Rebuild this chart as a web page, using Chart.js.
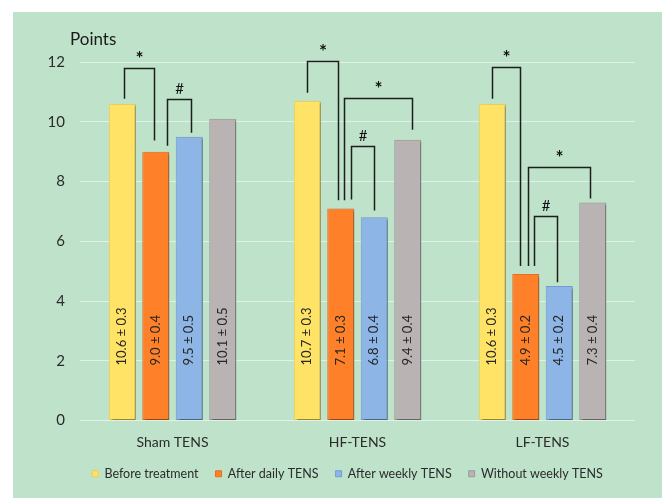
<!DOCTYPE html>
<html>
<head>
<meta charset="utf-8">
<script src="https://cdn.jsdelivr.net/npm/chart.js@4"></script>
<style>
  html, body { margin: 0; padding: 0; background: #ffffff; }
  #panel { position: absolute; left: 13px; top: 12px; width: 649px; height: 486px; background: #bfe2ca; }
  #panel canvas { display: block; }
</style>
</head>
<body>
<div id="panel"><canvas id="chart" width="649" height="486"></canvas></div>
<script>
// Groups and series
const categories = ['Sham TENS', 'HF-TENS', 'LF-TENS'];
const seriesNames = ['Before treatment', 'After daily TENS', 'After weekly TENS', 'Without weekly TENS'];

// Mean score (points) per group
const beforeTreatment = [10.6, 10.7, 10.6];
const afterDaily      = [9.0, 7.1, 4.9];
const afterWeekly     = [9.5, 6.8, 4.5];
const withoutWeekly   = [10.1, 9.4, 7.3];

// Standard deviations
const sdBefore  = [0.3, 0.3, 0.3];
const sdDaily   = [0.4, 0.3, 0.2];
const sdWeekly  = [0.5, 0.4, 0.2];
const sdWithout = [0.5, 0.4, 0.4];

// Y axis ticks
const yTicks = [0, 2, 4, 6, 8, 10, 12];

// Significance brackets: group, from series, to series, top level, leg ends, mark
const bracketGroup   = [0, 0, 1, 1, 1, 2, 2, 2];
const bracketFrom    = [0, 1, 0, 1, 1, 0, 1, 1];
const bracketTo      = [1, 2, 1, 3, 2, 1, 3, 2];
const bracketTop     = [11.8, 10.77, 12.03, 10.8, 9.2, 11.83, 8.47, 6.83];
const bracketFromEnd = [10.77, 9.2, 10.97, 7.37, 7.4, 10.77, 5.17, 5.17];
const bracketToEnd   = [9.37, 9.63, 7.37, 9.73, 7.03, 5.17, 7.43, 4.63];
const bracketMark    = ['*', '#', '*', '*', '#', '*', '*', '#'];

// Horizontal nudges of the bracket legs off the bar centres (px)
const legShiftFrom = [2, 11, 0, 3, 10, 0, 2, 8];
const legShiftTo   = [-2, 1.5, -3, 4.5, 0, -6, -2.5, -2.5];

const FONT = 'Lato, "Open Sans", "DejaVu Sans", sans-serif';
const fills   = ['#ffe366', '#fe8029', '#8db5e6', '#b9b3b3'];
const borders = ['#efcd4c', '#e86d1c', '#719cd0', '#9d9898'];

const values = [beforeTreatment, afterDaily, afterWeekly, withoutWeekly];
const sds = [sdBefore, sdDaily, sdWeekly, sdWithout];

const datasets = seriesNames.map((name, i) => ({
  label: name,
  data: values[i],
  backgroundColor: fills[i],
  borderColor: borders[i],
  borderWidth: 1,
  borderSkipped: false,
  categoryPercentage: 0.724,
  barPercentage: 0.806
}));

// soft drop shadow under each bar
const barShadow = {
  id: 'barShadow',
  beforeDatasetDraw(chart) {
    const ctx = chart.ctx;
    ctx.save();
    ctx.shadowColor = 'rgba(0,0,0,0.38)';
    ctx.shadowBlur = 2;
    ctx.shadowOffsetX = 2;
    ctx.shadowOffsetY = 1.5;
  },
  afterDatasetDraw(chart) {
    chart.ctx.restore();
  }
};

// centre the legend under the plot rather than under the whole canvas
const legendShift = {
  id: 'legendShift',
  afterLayout(chart) {
    if (chart.legend) chart.legend.left += 47;
  }
};

// "mean ± sd" written up the inside of each bar
const barLabels = {
  id: 'barLabels',
  afterDatasetsDraw(chart) {
    const ctx = chart.ctx;
    const base = chart.scales.y.getPixelForValue(0);
    ctx.save();
    ctx.font = '13px ' + FONT;
    ctx.fillStyle = '#262626';
    ctx.textAlign = 'left';
    ctx.textBaseline = 'middle';
    chart.data.datasets.forEach((ds, i) => {
      const meta = chart.getDatasetMeta(i);
      meta.data.forEach((bar, j) => {
        const txt = values[i][j].toFixed(1) + ' \u00b1 ' + sds[i][j].toFixed(1);
        ctx.save();
        ctx.translate(bar.x, base - 55);
        ctx.rotate(-Math.PI / 2);
        ctx.fillText(txt, 0, 0);
        ctx.restore();
      });
    });
    ctx.restore();
  }
};

// comparison brackets with * / # marks
const brackets = {
  id: 'brackets',
  afterDatasetsDraw(chart) {
    const ctx = chart.ctx;
    const y = chart.scales.y;
    ctx.save();
    ctx.strokeStyle = '#1e1e1e';
    ctx.lineWidth = 1.5;
    ctx.fillStyle = '#111';
    ctx.textAlign = 'center';
    ctx.textBaseline = 'alphabetic';
    bracketGroup.forEach((g, k) => {
      const a = chart.getDatasetMeta(bracketFrom[k]).data[g];
      const b = chart.getDatasetMeta(bracketTo[k]).data[g];
      const x1 = Math.round(a.x + legShiftFrom[k]) + 0.5;
      const x2 = Math.round(b.x + legShiftTo[k]) + 0.5;
      const yt = Math.round(y.getPixelForValue(bracketTop[k])) + 0.5;
      ctx.beginPath();
      ctx.moveTo(x1, y.getPixelForValue(bracketFromEnd[k]));
      ctx.lineTo(x1, yt);
      ctx.lineTo(x2, yt);
      ctx.lineTo(x2, y.getPixelForValue(bracketToEnd[k]));
      ctx.stroke();
      ctx.font = bracketMark[k] === '*' ? 'bold 19px ' + FONT : '15px ' + FONT;
      ctx.fillText(bracketMark[k], (x1 + x2) / 2, yt - (bracketMark[k] === '*' ? 4 : 6));
    });
    ctx.restore();
  }
};

// "Points" caption above the value axis
const axisCaption = {
  id: 'axisCaption',
  afterDraw(chart) {
    const ctx = chart.ctx;
    ctx.save();
    ctx.font = '17px ' + FONT;
    ctx.fillStyle = '#1a1a1a';
    ctx.textAlign = 'left';
    ctx.textBaseline = 'middle';
    ctx.fillText('Points', chart.chartArea.left - 10, chart.chartArea.top - 22);
    ctx.restore();
  }
};

new Chart(document.getElementById('chart'), {
  type: 'bar',
  data: { labels: categories, datasets },
  options: {
    responsive: false,
    animation: false,
    layout: { padding: { left: 0, right: 27, top: 50, bottom: 8 } },
    plugins: {
      legend: {
        position: 'bottom',
        labels: {
          boxWidth: 6,
          boxHeight: 6,
          padding: 17,
          color: '#2b2b2b',
          font: { family: FONT, size: 12.5 }
        }
      },
      tooltip: { enabled: false }
    },
    scales: {
      x: {
        grid: { display: false, drawTicks: false },
        border: { display: false },
        ticks: { color: '#2b2b2b', padding: 14, font: { family: FONT, size: 14 } },
        afterFit(scale) { scale.height = 30; }
      },
      y: {
        min: 0,
        max: 12,
        afterBuildTicks(scale) { scale.ticks = yTicks.map(v => ({ value: v })); },
        grid: { color: 'rgba(235,245,238,0.75)', lineWidth: 1, drawTicks: false },
        border: { display: false },
        ticks: { color: '#2b2b2b', padding: 15, font: { family: FONT, size: 15 } },
        afterFit(scale) { scale.width = 67; }
      }
    }
  },
  plugins: [legendShift, barShadow, barLabels, brackets, axisCaption]
});
</script>
</body>
</html>
